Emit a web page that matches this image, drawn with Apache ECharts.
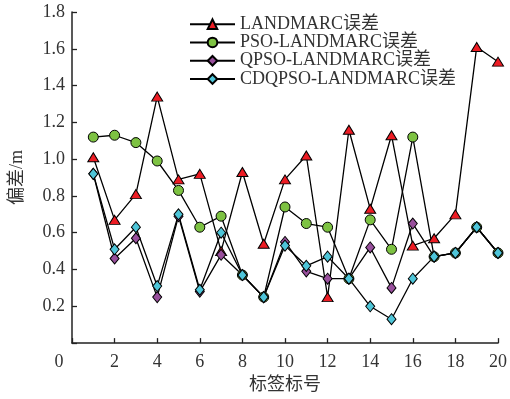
<!DOCTYPE html>
<html>
<head>
<meta charset="utf-8">
<script src="https://cdn.jsdelivr.net/npm/echarts@6/dist/echarts.min.js"></script>
<style>
html,body{margin:0;padding:0;background:#fff;}
#c{width:510px;height:399px;}
</style>
</head>
<body>
<div id="c"></div>
<script>
const tags = [1,2,3,4,5,6,7,8,9,10,11,12,13,14,15,16,17,18,19,20];
const landmarc = [1.01,0.67,0.81,1.34,0.89,0.92,0.50,0.93,0.54,0.89,1.02,0.25,1.16,0.73,1.13,0.53,0.57,0.70,1.61,1.53];
const pso      = [1.12,1.13,1.09,0.99,0.83,0.63,0.69,0.37,0.25,0.74,0.65,0.63,0.35,0.67,0.51,1.12,0.47,0.49,0.63,0.49];
const qpso     = [0.92,0.46,0.57,0.25,0.69,0.28,0.48,0.37,0.25,0.55,0.39,0.35,0.35,0.52,0.30,0.65,0.47,0.49,0.63,0.49];
const cdqpso   = [0.92,0.51,0.63,0.31,0.70,0.29,0.60,0.37,0.25,0.53,0.42,0.47,0.35,0.20,0.13,0.35,0.47,0.49,0.63,0.49];
const seriesNames = ['LANDMARC误差','PSO-LANDMARC误差','QPSO-LANDMARC误差','CDQPSO-LANDMARC误差'];

const FONT = '"Liberation Serif","Times New Roman","Noto Sans CJK SC",serif';
const pairs = arr => tags.map((t,i)=>[t,arr[i]]);

function mk(name, data, symbol, size, color){
  return {
    name, type:'line', data: pairs(data), symbol, symbolSize: size,
    lineStyle:{color:'#000', width:1.3},
    itemStyle:{color, borderColor:'#000', borderWidth:1},
    emphasis:{disabled:true}, animation:false
  };
}

const chart = echarts.init(document.getElementById('c'));
chart.setOption({
  animation:false,
  grid:{left:67, right:11, top:12, bottom:51, containLabel:false},
  legend:{
    orient:'vertical', left:184, top:10, itemWidth:45, itemHeight:12, itemGap:0,
    textStyle:{fontFamily:FONT, fontSize:18, color:'#333', lineHeight:18.3},
    data: seriesNames
  },
  xAxis:{
    type:'value', min:0, max:20, interval:2,
    axisLine:{show:true, lineStyle:{color:'#222', width:1.5}},
    axisTick:{show:true, inside:true, length:5, lineStyle:{color:'#222', width:1.3}},
    splitLine:{show:false},
    axisLabel:{fontFamily:FONT, fontSize:18, color:'#333', margin:10,
      formatter: v => v===0 ? '{z|0}' : String(v),
      rich:{z:{fontFamily:FONT, fontSize:18, color:'#333', padding:[0,26,0,0]}}},
    name:'标签标号', nameLocation:'middle', nameGap:28,
    nameTextStyle:{fontFamily:FONT, fontSize:18, color:'#333'}
  },
  yAxis:{
    type:'value', min:0, max:1.8, interval:0.2,
    axisLine:{show:true, lineStyle:{color:'#222', width:1.5}},
    axisTick:{show:true, inside:true, length:5, lineStyle:{color:'#222', width:1.3}},
    splitLine:{show:false},
    axisLabel:{fontFamily:FONT, fontSize:18, color:'#333', margin:7,
      formatter: v => v===0 ? '' : v.toFixed(1)},
    name:'偏差/m', nameLocation:'middle', nameGap:46,
    nameTextStyle:{fontFamily:FONT, fontSize:18, color:'#333'}
  },
  series:[
    mk(seriesNames[0], landmarc, 'triangle', [11,9], '#ed1c24'),
    mk(seriesNames[1], pso, 'circle', 10, '#7dc242'),
    mk(seriesNames[2], qpso, 'diamond', [9,11], '#984f9c'),
    mk(seriesNames[3], cdqpso, 'diamond', [9,11], '#4ec5d8')
  ]
});
</script>
</body>
</html>
